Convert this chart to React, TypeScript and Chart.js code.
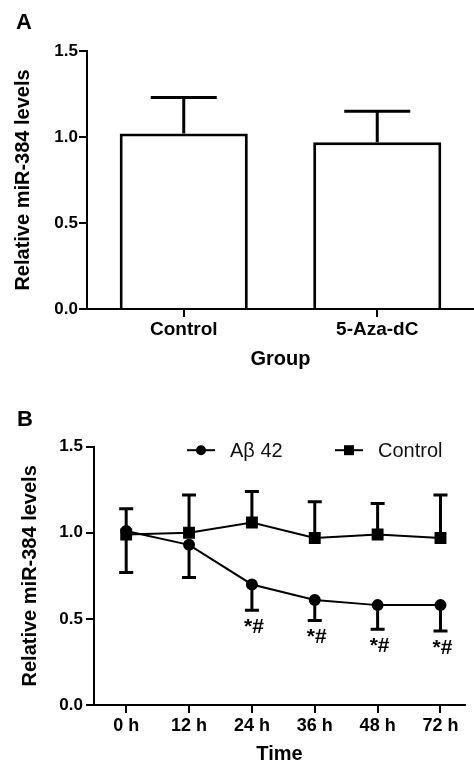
import React, { useEffect, useRef } from 'react';
import { Chart, registerables } from 'chart.js';

Chart.register(...registerables);

const FONT = '"Liberation Sans", Arial, Helvetica, sans-serif';

// ---- Panel A data ----
const groupLabels = ['Control', '5-Aza-dC'];
const groupMeans = [1.02, 0.97];
const groupErrors = [0.21, 0.18];

// ---- Panel B data ----
const timeLabels = ['0 h', '12 h', '24 h', '36 h', '48 h', '72 h'];
const abetaMeans = [1.01, 0.93, 0.7, 0.61, 0.58, 0.58];
const abetaErrors = [0.24, 0.19, 0.15, 0.12, 0.14, 0.15];
const controlMeans = [0.99, 1.0, 1.06, 0.97, 0.99, 0.97];
const controlErrors = [0.15, 0.22, 0.18, 0.21, 0.18, 0.25];
const significance = ['', '', '*#', '*#', '*#', '*#'];
const seriesNames = ['A\u03b2 42', 'Control'];

const yTitle = 'Relative miR-384 levels';

const BLACK = '#000';

function panelLetter(letter: string, x: number, y: number) {
  return {
    id: 'panelLetter' + letter,
    afterDraw(chart: any) {
      const ctx = chart.ctx;
      ctx.save();
      ctx.fillStyle = BLACK;
      ctx.font = `bold 22px ${FONT}`;
      ctx.textAlign = 'left';
      ctx.textBaseline = 'alphabetic';
      ctx.fillText(letter, x, y);
      ctx.restore();
    },
  };
}

const barErrorPlugin = {
  id: 'barErrors',
  afterDatasetsDraw(chart: any) {
    const ctx = chart.ctx;
    const yScale = chart.scales.y;
    const meta = chart.getDatasetMeta(0);
    ctx.save();
    ctx.strokeStyle = BLACK;
    ctx.lineWidth = 3;
    meta.data.forEach((el: any, i: number) => {
      const top = yScale.getPixelForValue(groupMeans[i] + groupErrors[i]);
      ctx.beginPath();
      ctx.moveTo(el.x, el.y);
      ctx.lineTo(el.x, top);
      ctx.moveTo(el.x - 33, top);
      ctx.lineTo(el.x + 33, top);
      ctx.stroke();
    });
    ctx.restore();
  },
};

const lineErrorPlugin = {
  id: 'lineErrors',
  afterDatasetsDraw(chart: any) {
    const ctx = chart.ctx;
    const xS = chart.scales.x;
    const yS = chart.scales.y;
    ctx.save();
    ctx.strokeStyle = BLACK;
    ctx.lineWidth = 3;
    const drawBar = (i: number, mean: number, err: number, dir: number) => {
      const x = xS.getPixelForValue(i);
      const y0 = yS.getPixelForValue(mean);
      const y1 = yS.getPixelForValue(mean + dir * err);
      ctx.beginPath();
      ctx.moveTo(x, y0);
      ctx.lineTo(x, y1);
      ctx.moveTo(x - 7, y1);
      ctx.lineTo(x + 7, y1);
      ctx.stroke();
    };
    timeLabels.forEach((_, i) => {
      drawBar(i, controlMeans[i], controlErrors[i], 1);
      drawBar(i, abetaMeans[i], abetaErrors[i], -1);
    });
    // significance marks
    ctx.fillStyle = BLACK;
    ctx.font = `bold 21px ${FONT}`;
    ctx.textAlign = 'center';
    ctx.textBaseline = 'middle';
    significance.forEach((s, i) => {
      if (!s) return;
      const x = xS.getPixelForValue(i) + 2;
      const y = yS.getPixelForValue(abetaMeans[i] - abetaErrors[i]) + 17;
      ctx.fillText(s, x, y);
    });
    ctx.restore();
  },
};

const legendPlugin = {
  id: 'customLegend',
  afterDraw(chart: any) {
    const ctx = chart.ctx;
    const y = chart.chartArea.top + 3.5;
    ctx.save();
    ctx.strokeStyle = BLACK;
    ctx.fillStyle = BLACK;
    ctx.lineWidth = 2;
    // item 1: circle
    ctx.beginPath();
    ctx.moveTo(187, y);
    ctx.lineTo(215, y);
    ctx.stroke();
    ctx.beginPath();
    ctx.arc(201, y, 5, 0, Math.PI * 2);
    ctx.fill();
    // item 2: square
    ctx.beginPath();
    ctx.moveTo(335, y);
    ctx.lineTo(363, y);
    ctx.stroke();
    ctx.fillRect(344, y - 5, 10, 10);
    ctx.font = `20px ${FONT}`;
    ctx.textAlign = 'left';
    ctx.textBaseline = 'middle';
    ctx.fillStyle = '#111';
    ctx.fillText(seriesNames[0], 230, y + 1);
    ctx.fillText(seriesNames[1], 378, y + 1);
    ctx.restore();
  },
};

const axisGrid = {
  display: true,
  drawOnChartArea: false,
  drawTicks: true,
  color: BLACK,
  lineWidth: 2,
  tickLength: 8,
};
const axisBorder = { display: true, color: BLACK, width: 2 };

export default function App() {
  const refA = useRef<HTMLCanvasElement>(null);
  const refB = useRef<HTMLCanvasElement>(null);

  useEffect(() => {
    const chartA = new Chart(refA.current as HTMLCanvasElement, {
      type: 'bar',
      data: {
        labels: groupLabels,
        datasets: [
          {
            data: groupMeans,
            backgroundColor: '#fff',
            borderColor: BLACK,
            borderWidth: 3,
            borderSkipped: 'start',
            categoryPercentage: 1,
            barPercentage: 0.662,
          },
        ],
      },
      options: {
        responsive: false,
        animation: false,
        layout: { padding: { top: 51, left: 0, right: 0, bottom: 0 } },
        plugins: { legend: { display: false }, tooltip: { enabled: false } },
        scales: {
          x: {
            grid: { ...axisGrid, offset: false },
            border: axisBorder,
            ticks: { color: BLACK, font: { family: FONT, size: 19, weight: 'bold' }, padding: 1 },
            title: {
              display: true,
              text: 'Group',
              color: BLACK,
              font: { family: FONT, size: 20, weight: 'bold' },
              padding: { top: 0, bottom: 9 },
            },
            afterFit: (s: any) => {
              s.height = 71;
            },
          },
          y: {
            min: 0,
            max: 1.5,
            grid: axisGrid,
            border: axisBorder,
            ticks: {
              stepSize: 0.5,
              color: BLACK,
              font: { family: FONT, size: 17, weight: 'bold' },
              padding: 1,
              callback: (v: any) => Number(v).toFixed(1),
            },
            title: {
              display: true,
              text: yTitle,
              color: BLACK,
              font: { family: FONT, size: 20, weight: 'bold' },
              padding: { top: 11, bottom: 0 },
            },
            afterFit: (s: any) => {
              s.width = 87;
            },
          },
        },
      } as any,
      plugins: [barErrorPlugin, panelLetter('A', 16, 29)],
    });

    const chartB = new Chart(refB.current as HTMLCanvasElement, {
      type: 'line',
      data: {
        datasets: [
          {
            label: seriesNames[0],
            data: abetaMeans.map((v, i) => ({ x: i, y: v })),
            borderColor: BLACK,
            borderWidth: 2,
            pointStyle: 'circle',
            pointRadius: 5,
            pointBackgroundColor: BLACK,
            pointBorderColor: BLACK,
            tension: 0,
          },
          {
            label: seriesNames[1],
            data: controlMeans.map((v, i) => ({ x: i, y: v })),
            borderColor: BLACK,
            borderWidth: 2,
            pointStyle: 'rect',
            pointRadius: 7,
            pointBackgroundColor: BLACK,
            pointBorderColor: BLACK,
            tension: 0,
          },
        ],
      },
      options: {
        responsive: false,
        animation: false,
        layout: { padding: { top: 66.7, left: 0, right: 0, bottom: 0 } },
        plugins: { legend: { display: false }, tooltip: { enabled: false } },
        scales: {
          x: {
            type: 'linear',
            min: -0.512,
            max: 5.39,
            afterBuildTicks: (s: any) => {
              s.ticks = timeLabels.map((_, i) => ({ value: i }));
            },
            grid: axisGrid,
            border: axisBorder,
            ticks: {
              color: BLACK,
              font: { family: FONT, size: 18, weight: 'bold' },
              padding: 2,
              callback: (v: any) => timeLabels[Math.round(Number(v))] ?? '',
            },
            title: {
              display: true,
              text: 'Time',
              color: BLACK,
              font: { family: FONT, size: 20, weight: 'bold' },
              padding: { top: 0, bottom: 0 },
            },
            afterFit: (s: any) => {
              s.height = 61;
            },
          },
          y: {
            min: 0,
            max: 1.5,
            grid: axisGrid,
            border: axisBorder,
            ticks: {
              stepSize: 0.5,
              color: BLACK,
              font: { family: FONT, size: 17, weight: 'bold' },
              padding: 3,
              callback: (v: any) => Number(v).toFixed(1),
            },
            title: {
              display: true,
              text: yTitle,
              color: BLACK,
              font: { family: FONT, size: 20, weight: 'bold' },
              padding: { top: 18, bottom: 0 },
            },
            afterFit: (s: any) => {
              s.width = 94;
            },
          },
        },
      } as any,
      plugins: [lineErrorPlugin, legendPlugin, panelLetter('B', 17, 46)],
    });

    return () => {
      chartA.destroy();
      chartB.destroy();
    };
  }, []);

  return (
    <div style={{ position: 'absolute', left: 0, top: 0, width: 474, height: 766, background: '#fff' }}>
      <canvas ref={refA} width={474} height={380} style={{ position: 'absolute', left: 0, top: 0, display: 'block' }} />
      <canvas ref={refB} width={474} height={386} style={{ position: 'absolute', left: 0, top: 380, display: 'block' }} />
    </div>
  );
}
